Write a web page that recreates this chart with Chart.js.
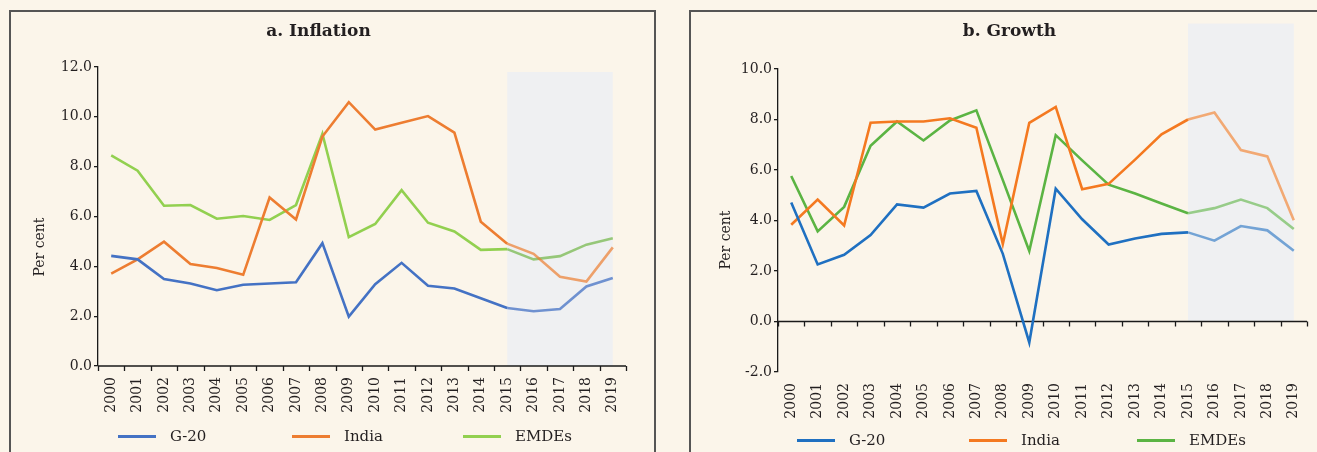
<!DOCTYPE html>
<html>
<head>
<meta charset="utf-8">
<script src="https://cdn.jsdelivr.net/npm/chart.js@4.4.1/dist/chart.umd.min.js"></script>
<style>
  body { margin: 0; background: #fbf5ea; width: 1317px; height: 452px; overflow: hidden; position: relative; font-family: "DejaVu Serif", serif; }
  .panel { position: absolute; border: 2px solid #555; box-sizing: content-box; }
  .wrap { position: absolute; }
  .leg { position: absolute; display: flex; align-items: center; font-size: 15px; color: #231f20; line-height: 16px; }
  .leg .ln { display: inline-block; width: 38px; height: 3px; margin-right: 14px; }
</style>
</head>
<body>
<div class="panel" style="left:9px;top:10px;width:643px;height:460px"></div>
<div class="panel" style="left:689px;top:10px;width:700px;height:460px"></div>

<div class="wrap" style="left:11px;top:12px;width:640px;height:440px"><canvas id="inflationChart"></canvas></div>
<div class="wrap" style="left:692px;top:12px;width:625px;height:440px"><canvas id="growthChart"></canvas></div>

<div class="leg" style="left:118px;top:428px"><span class="ln" style="background:#4472c4"></span>G-20</div>
<div class="leg" style="left:292px;top:428px"><span class="ln" style="background:#ed7d31"></span>India</div>
<div class="leg" style="left:463px;top:428px"><span class="ln" style="background:#92d050"></span>EMDEs</div>

<div class="leg" style="left:797px;top:432px"><span class="ln" style="background:#1f70c1"></span>G-20</div>
<div class="leg" style="left:969px;top:432px"><span class="ln" style="background:#f47920"></span>India</div>
<div class="leg" style="left:1137px;top:432px"><span class="ln" style="background:#5bb443"></span>EMDEs</div>

<script>
const years = ["2000", "2001", "2002", "2003", "2004", "2005", "2006", "2007", "2008", "2009",
  "2010", "2011", "2012", "2013", "2014", "2015", "2016", "2017", "2018", "2019"];

// a. Inflation (per cent)
const inflationG20 = [4.42, 4.28, 3.49, 3.31, 3.04, 3.26, 3.31, 3.36, 4.93, 1.98,
  3.28, 4.14, 3.22, 3.11, 2.72, 2.33, 2.20, 2.29, 3.19, 3.53];
const inflationIndia = [3.71, 4.28, 4.99, 4.09, 3.93, 3.66, 6.76, 5.88, 9.21, 10.59,
  9.49, 9.76, 10.03, 9.37, 5.79, 4.91, 4.50, 3.58, 3.39, 4.76];
const inflationEMDEs = [8.45, 7.84, 6.43, 6.46, 5.91, 6.02, 5.86, 6.46, 9.32, 5.17,
  5.70, 7.06, 5.75, 5.40, 4.66, 4.69, 4.28, 4.41, 4.87, 5.13];

// b. Growth (per cent)
const growthG20 = [4.71, 2.26, 2.64, 3.42, 4.64, 4.51, 5.07, 5.17, 2.68, -0.83,
  5.26, 4.05, 3.05, 3.29, 3.47, 3.53, 3.20, 3.78, 3.61, 2.80];
const growthIndia = [3.83, 4.83, 3.80, 7.87, 7.92, 7.92, 8.05, 7.67, 3.07, 7.87,
  8.50, 5.24, 5.45, 6.41, 7.41, 8.00, 8.28, 6.79, 6.54, 4.01];
const growthEMDEs = [5.76, 3.57, 4.54, 6.96, 7.92, 7.17, 7.96, 8.36, 5.60, 2.79,
  7.38, 6.38, 5.42, 5.07, 4.67, 4.29, 4.49, 4.83, 4.49, 3.66];

// y axis ranges / tick labels
const inflationTicks = [0, 2, 4, 6, 8, 10, 12];
const growthTicks = [-2, 0, 2, 4, 6, 8, 10];

// projections start here (shaded)
const projectionFrom = "2015";
const shadeTop = 11.8;

const textColor = "#231f20";
const serif = "'DejaVu Serif', serif";

// shaded projection box + zero axis line with ticks between categories
const panelDecor = {
  id: "panelDecor",
  beforeDatasetsDraw(chart) {
    const { ctx, chartArea, scales: { x, y } } = chart;
    const i0 = years.indexOf(projectionFrom);
    const zeroY = y.getPixelForValue(0);
    ctx.save();
    ctx.fillStyle = "#eff0f2";
    const top = y.getPixelForValue(shadeTop);
    const left = x.getPixelForValue(i0);
    const right = x.getPixelForValue(years.length - 1);
    ctx.fillRect(left, top, right - left, zeroY - top);

    ctx.strokeStyle = "#1a1a1a";
    ctx.lineWidth = 1.3;
    ctx.beginPath();
    ctx.moveTo(chartArea.left, zeroY);
    ctx.lineTo(chartArea.right, zeroY);
    for (let i = 0; i <= years.length; i++) {
      const px = Math.round(x.getPixelForValue(i - 0.5)) + 0.5;
      ctx.moveTo(px, zeroY);
      ctx.lineTo(px, zeroY + 5);
    }
    ctx.stroke();
    ctx.restore();
  },
};

// rotated "Per cent" label
const sideTitle = {
  id: "sideTitle",
  afterDraw(chart, args, opts) {
    const { ctx } = chart;
    ctx.save();
    ctx.translate(opts.x, opts.y);
    ctx.rotate(-Math.PI / 2);
    ctx.font = "14px " + serif;
    ctx.fillStyle = textColor;
    ctx.textAlign = "center";
    ctx.textBaseline = "middle";
    ctx.fillText(opts.text, 0, 0);
    ctx.restore();
  },
};

function fadeAfter(color, faded) {
  const i0 = years.indexOf(projectionFrom);
  return (ctx) => (ctx.p0DataIndex >= i0 ? faded : color);
}

function series(label, data, color, faded) {
  return {
    label: label,
    data: data,
    borderColor: color,
    backgroundColor: color,
    borderWidth: 2.6,
    pointRadius: 0,
    tension: 0,
    segment: { borderColor: fadeAfter(color, faded) },
  };
}

function makeChart(id, title, ticks, datasets, lay) {
  const el = document.getElementById(id).getContext("2d");
  return new Chart(el, {
    type: "line",
    data: { labels: years, datasets: datasets },
    options: {
      responsive: true,
      maintainAspectRatio: false,
      animation: false,
      layout: { padding: { left: lay.left, right: lay.right, top: 0, bottom: 0 } },
      plugins: {
        legend: { display: false },
        tooltip: { enabled: false },
        title: {
          display: true,
          text: title,
          color: textColor,
          font: { family: serif, size: 17, weight: "bold" },
          padding: { top: 9, bottom: lay.top - 9 - 20.4 },
        },
        sideTitle: { text: "Per cent", x: lay.titleX, y: lay.titleY },
      },
      scales: {
        x: {
          offset: true,
          border: { display: false },
          grid: { display: true, color: "rgba(0,0,0,0)", drawOnChartArea: false, tickLength: 6, offset: true },
          ticks: {
            color: textColor,
            font: { family: serif, size: 14 },
            minRotation: 90,
            maxRotation: 90,
            autoSkip: false,
            padding: 5,
          },
          afterFit(scale) { scale.height = lay.xHeight; },
        },
        y: {
          min: ticks[0],
          max: ticks[ticks.length - 1],
          border: { display: true, color: "#1a1a1a", width: 1.3 },
          grid: { display: true, drawOnChartArea: false, color: "#1a1a1a", tickLength: 4, lineWidth: 1.3 },
          ticks: {
            stepSize: ticks[1] - ticks[0],
            color: textColor,
            font: { family: serif, size: 14 },
            padding: 2,
            callback: (v) => v.toFixed(1),
          },
          afterFit(scale) { scale.width = lay.yWidth; },
        },
      },
    },
    plugins: [panelDecor, sideTitle],
  });
}

document.addEventListener("DOMContentLoaded", () => {
  makeChart("inflationChart", "a. Inflation", inflationTicks, [
    series("G-20", inflationG20, "#4472c4", "rgba(68,114,196,0.75)"),
    series("India", inflationIndia, "#ed7d31", "rgba(237,125,49,0.7)"),
    series("EMDEs", inflationEMDEs, "#92d050", "rgba(120,185,80,0.75)"),
  ], { left: 0, right: 25, top: 55, xHeight: 86, yWidth: 87, titleX: 29, titleY: 235 });

  makeChart("growthChart", "b. Growth", growthTicks, [
    series("G-20", growthG20, "#1f70c1", "rgba(31,112,193,0.6)"),
    series("India", growthIndia, "#f47920", "rgba(244,121,32,0.6)"),
    series("EMDEs", growthEMDEs, "#5bb443", "rgba(91,180,67,0.6)"),
  ], { left: 20, right: 10, top: 57, xHeight: 80, yWidth: 66, titleX: 34, titleY: 228 });
});
</script>
</body>
</html>
